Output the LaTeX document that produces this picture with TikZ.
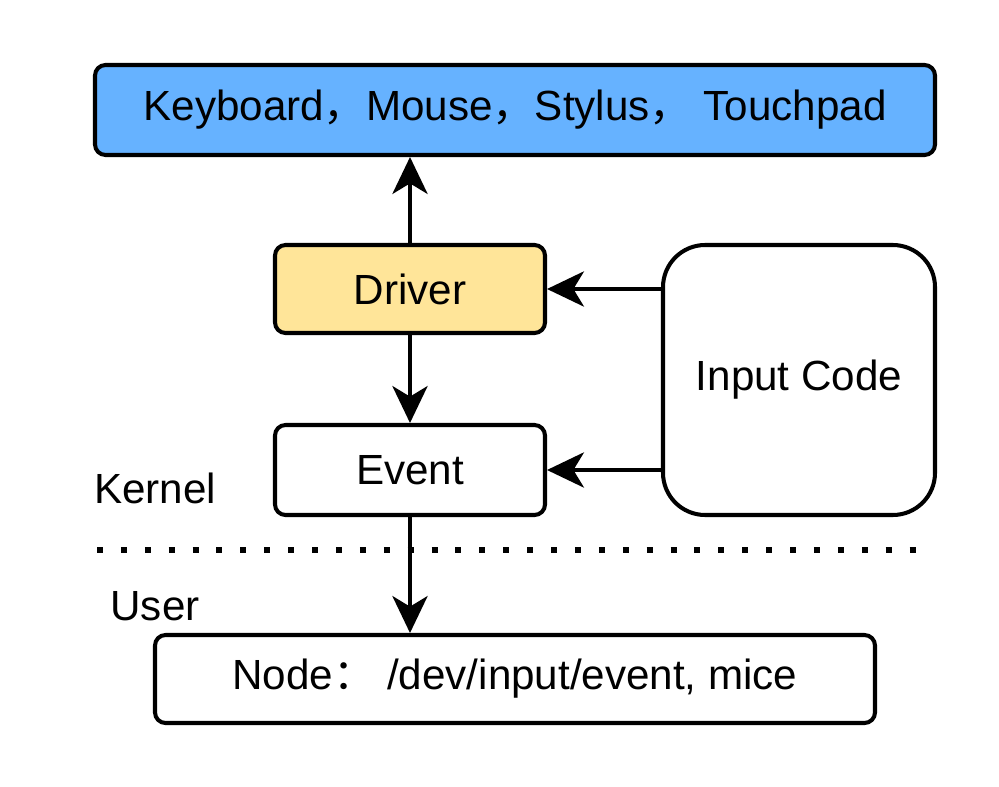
\documentclass[tikz,border=0pt]{standalone}
\usepackage{fontspec}
\setmainfont{Liberation Sans}
\newfontfamily\cjk{Noto Sans CJK SC}
\definecolor{inBlue}{HTML}{66B2FF}
\definecolor{inYellow}{HTML}{FFE599}
\usetikzlibrary{positioning,arrows.meta}

\begin{document}
\begin{tikzpicture}[
    box/.style={draw, line width=2.3pt, rounded corners=6pt, align=center,
      font=\fontsize{24}{29}\selectfont, inner sep=0pt},
    arr/.style={line width=2.3pt, -{Stealth[length=21pt, width=20pt, inset=6pt]}},
    lbl/.style={font=\fontsize{24}{29}\selectfont, inner sep=0pt}
  ]
  \useasboundingbox (0,0) rectangle (19.98,15.72);
  % devices on top
  \node[box, fill=inBlue, minimum width=16.8cm, minimum height=1.8cm] (dev) at (10.3,13.52)
    {Keyboard{\cjk ，}Mouse{\cjk ，}Stylus{\cjk ，} Touchpad};
  % kernel side
  \node[box, fill=inYellow, minimum width=5.4cm, minimum height=1.76cm] (drv) at (8.2,9.94) {Driver};
  \node[box, minimum width=5.4cm, minimum height=1.8cm] (evt) at (8.2,6.32) {Event};
  \node[box, rounded corners=24pt, minimum width=5.44cm, minimum height=5.4cm] (inp) at (15.98,8.12) {Input Code};
  \node[lbl] (kern) at (3.1,5.96) {Kernel};
  % kernel / user border
  \coordinate (sepL) at (1.94,4.72);
  \coordinate (sepR) at (18.32,4.72);
  \draw[line width=3.4pt, dash pattern=on 3.4pt off 10.2pt] (sepL) -- (sepR);
  % user side
  \node[lbl] (usr) at (3.1,3.6) {User};
  \node[box, minimum width=14.4cm, minimum height=1.76cm] (devnode) at (10.3,2.14)
    {Node{\cjk ：} /dev/input/event, mice};
  % connectors
  \draw[arr] (drv) -- (dev.south -| drv);
  \draw[arr] (drv) -- (evt);
  \draw[arr] (inp.west |- drv) -- (drv.east);
  \draw[arr] (inp.west |- evt) -- (evt.east);
  \draw[arr] (evt) -- (devnode.north -| evt);
\end{tikzpicture}
\end{document}
